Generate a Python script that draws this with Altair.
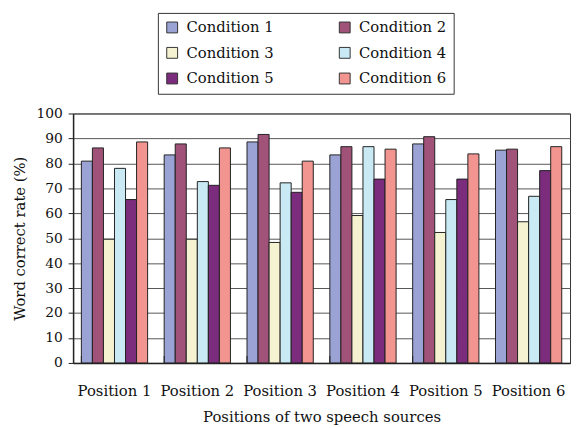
import altair as alt
import pandas as pd

positions = ["Position 1", "Position 2", "Position 3", "Position 4", "Position 5", "Position 6"]
conditions = ["Condition 1", "Condition 2", "Condition 3", "Condition 4", "Condition 5", "Condition 6"]
cond1 = [80.9, 83.4, 88.6, 83.4, 87.8, 85.3]
cond2 = [86.2, 87.8, 91.6, 86.7, 90.7, 85.7]
cond3 = [49.6, 49.6, 48.3, 59.1, 52.3, 56.6]
cond4 = [78.0, 72.7, 72.2, 86.7, 65.5, 66.8]
cond5 = [65.5, 71.2, 68.4, 73.7, 73.7, 77.1]
cond6 = [88.6, 86.2, 80.9, 85.7, 83.8, 86.7]
colors = ["#9aa3d4", "#a05278", "#f5f2d2", "#c9eaf5", "#7b2c7c", "#f29590"]

series = [cond1, cond2, cond3, cond4, cond5, cond6]
rows = []
for cname, vals in zip(conditions, series):
    for p, v in zip(positions, vals):
        rows.append({"position": p, "condition": cname, "value": v})
df = pd.DataFrame(rows)
ticks_df = pd.DataFrame({"position": positions})

FONT = "DejaVu Serif"

xscale = alt.Scale(domain=positions, paddingInner=0.2, paddingOuter=0.1)

bars = alt.Chart(df).mark_bar(stroke="#222222", strokeWidth=1).encode(
    x=alt.X("position:N", sort=positions, scale=xscale,
            axis=alt.Axis(title="Positions of two speech sources", labelAngle=0,
                          ticks=False, labelPadding=21, titlePadding=11,
                          labelFont=FONT, labelFontSize=15, labelColor="#111",
                          titleFont=FONT, titleFontSize=15, titleFontWeight="normal",
                          titleColor="#111", domainColor="#222", domainWidth=1.5)),
    xOffset=alt.XOffset("condition:N", sort=conditions,
                        scale=alt.Scale(paddingInner=0, paddingOuter=0)),
    y=alt.Y("value:Q", scale=alt.Scale(domain=[0, 100]),
            axis=alt.Axis(values=list(range(0, 101, 10)), title="Word correct rate (%)",
                          labelFont=FONT, labelFontSize=14, labelColor="#111",
                          labelPadding=6, tickSize=5, tickColor="#222",
                          titleFont=FONT, titleFontSize=15, titleFontWeight="normal",
                          titleColor="#111", titlePadding=9,
                          domainColor="#222", domainWidth=1.5,
                          gridColor="#555555", gridWidth=1)),
    color=alt.Color("condition:N", scale=alt.Scale(domain=conditions, range=colors),
                    legend=alt.Legend(title=None, orient="none", legendX=86, legendY=-102,
                                      columns=2, direction="horizontal",
                                      columnPadding=64, rowPadding=10,
                                      symbolType="square", symbolSize=121,
                                      symbolStrokeColor="#333", symbolStrokeWidth=1,
                                      symbolOpacity=1,
                                      labelFont=FONT, labelFontSize=15, labelColor="#111",
                                      labelOffset=7, padding=7,
                                      strokeColor="#333", fillColor="white")),
)

tickrules = alt.Chart(ticks_df).mark_rule(color="#222", strokeWidth=1).encode(
    x=alt.X("position:N", sort=positions, scale=xscale, bandPosition=0),
    y=alt.value(246),
    y2=alt.value(253),
)

chart = alt.layer(bars, tickrules).properties(
    width=504, height=253, autosize="none",
    padding={"left": 66, "top": 104, "right": 2, "bottom": 64},
).configure(font=FONT).configure_view(stroke="#333", strokeWidth=1)

chart.save("out.html", embed_options={"renderer": "svg", "actions": False})
